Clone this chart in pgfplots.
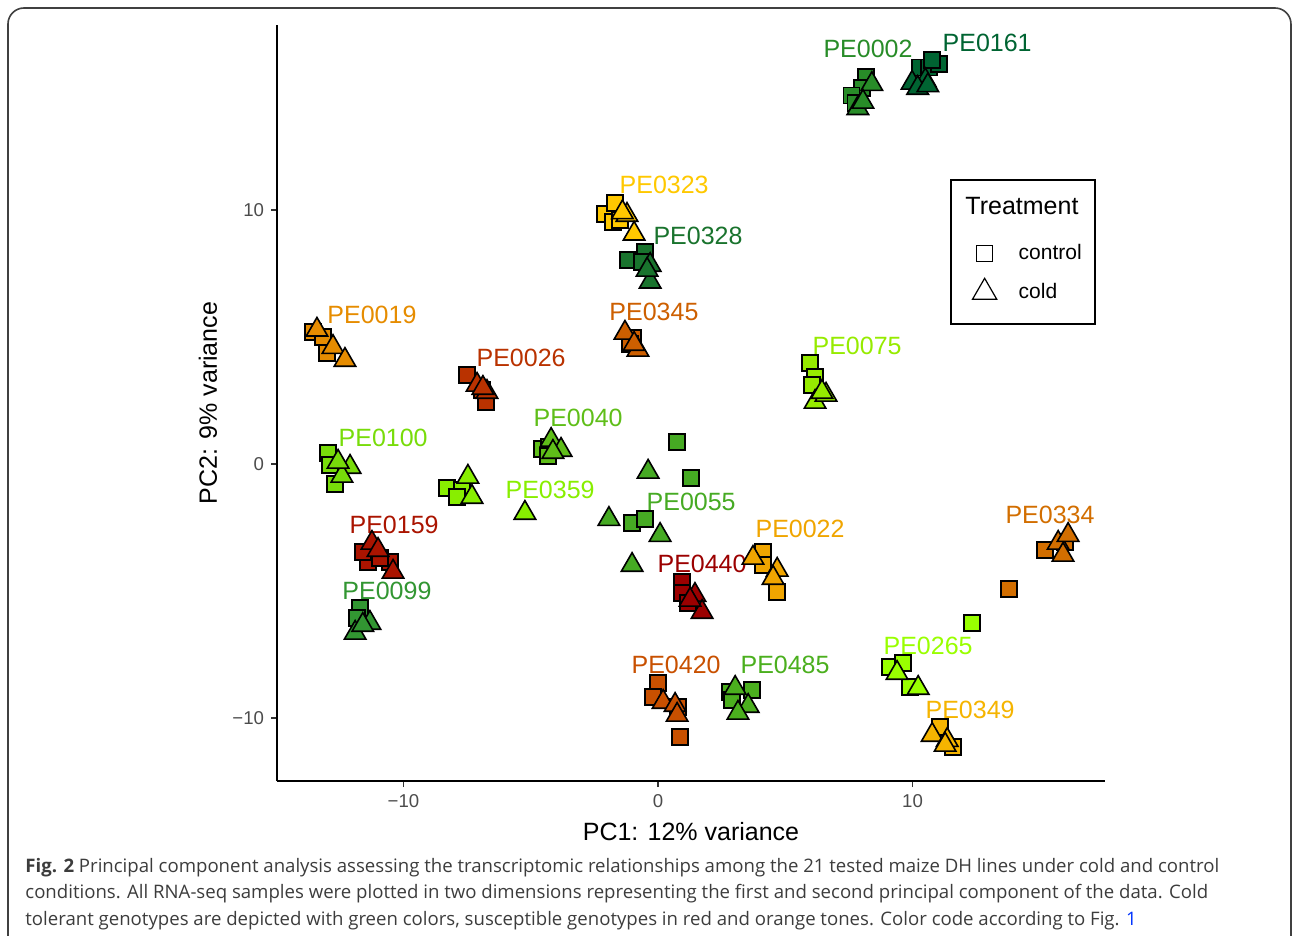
\documentclass[border=0pt]{standalone}
\usepackage{fontspec}
\setmainfont{Liberation Sans}
\newfontfamily\capfont{Open Sans}
\usepackage{pgfplots}
\pgfplotsset{compat=1.18}
\newcommand{\labf}{\fontsize{12.5bp}{14bp}\selectfont}
\newcommand{\tickf}{\fontsize{9.3bp}{11bp}\selectfont}
\newcommand{\legf}{\fontsize{10.5bp}{12bp}\selectfont}
\definecolor{c0002}{RGB}{40,140,40}
\definecolor{c0161}{RGB}{0,100,50}
\definecolor{c0323}{RGB}{255,200,0}
\definecolor{c0328}{RGB}{25,115,45}
\definecolor{c0019}{RGB}{230,140,0}
\definecolor{c0026}{RGB}{185,50,0}
\definecolor{c0345}{RGB}{205,95,0}
\definecolor{c0075}{RGB}{150,235,0}
\definecolor{c0040}{RGB}{95,190,25}
\definecolor{c0100}{RGB}{120,220,10}
\definecolor{c0359}{RGB}{136,238,0}
\definecolor{c0055}{RGB}{70,170,35}
\definecolor{c0159}{RGB}{170,20,0}
\definecolor{c0099}{RGB}{50,150,50}
\definecolor{c0440}{RGB}{155,0,0}
\definecolor{c0022}{RGB}{240,165,0}
\definecolor{c0420}{RGB}{200,80,0}
\definecolor{c0485}{RGB}{75,175,30}
\definecolor{c0265}{RGB}{153,255,0}
\definecolor{c0349}{RGB}{245,180,0}
\definecolor{c0334}{RGB}{210,110,0}
\definecolor{capgray}{RGB}{60,60,60}
\newcommand{\ctrl}[2]{\addplot[forget plot, only marks, mark=square*, mark size=4bp, mark options={fill=#1, draw=black, line width=0.8bp}] coordinates {#2};}
\newcommand{\cold}[2]{\addplot[forget plot, only marks, mark=triangle*, mark size=6.2bp, mark options={fill=#1, draw=black, line width=0.8bp}] coordinates {#2};}
\newcommand{\lab}[3]{\node[text=#1, font=\labf, inner sep=0pt] at (axis cs:#2) {#3};}
\begin{document}
\begin{tikzpicture}
\useasboundingbox (0,0) rectangle (646bp,-468bp);
\begin{axis}[
  at={(138.5bp,-390.5bp)}, anchor=south west,
  scale only axis, width=414bp, height=378bp,
  xmin=-14.97, xmax=17.56, ymin=-12.48, ymax=17.28,
  axis x line*=bottom, axis y line*=left,
  axis line style={line width=1bp, black},
  xtick={-10,0,10}, ytick={-10,0,10},
  xticklabels={−10,0,10}, yticklabels={−10,0,10},
  tick style={line width=0.8bp, black!80},
  major tick length=3bp, tick align=outside,
  ticklabel style={font=\tickf, text=black!70},
  clip=false,
  xlabel={PC1: 12\% variance}, ylabel={PC2: 9\% variance},
  label style={font=\labf},
  xlabel style={at={(axis description cs:0.5,-0.0675)}, anchor=center},
  ylabel style={at={(axis description cs:-0.0833,0.5)}, anchor=center},
  legend style={at={(axis description cs:0.8395,0.716)}, anchor=north west, draw=none, fill=none, font=\legf, row sep=6bp, inner sep=0pt},
  legend cell align=left,
]
\addlegendimage{only marks, mark=square, mark size=4bp, black, line width=0.6bp}
\addlegendentry{\hspace*{9bp}control}
\addlegendimage{only marks, mark=triangle, mark size=7bp, black, line width=0.6bp}
\addlegendentry{\hspace*{9bp}cold}

\ctrl{c0002}{(8.17,15.24)(8.02,14.80)(7.60,14.50)(7.75,14.20)}
\cold{c0002}{(8.40,14.95)(7.85,14.00)(8.05,14.25)}
\ctrl{c0161}{(10.30,15.60)(10.65,15.60)(11.04,15.75)(10.76,15.90)}
\cold{c0161}{(9.98,15.00)(10.50,15.10)(10.20,14.80)(10.60,14.90)}
\ctrl{c0323}{(-2.08,9.84)(-1.69,10.28)(-1.77,9.53)(-1.49,9.60)}
\cold{c0323}{(-1.22,9.80)(-0.94,9.06)(-1.40,9.90)}
\ctrl{c0328}{(-0.51,8.35)(-1.18,8.03)(-0.63,7.95)}
\cold{c0328}{(-0.31,7.83)(-0.31,7.17)(-0.43,7.64)}
\ctrl{c0019}{(-13.56,5.20)(-13.16,5.00)(-13.00,4.37)}
\cold{c0019}{(-13.40,5.28)(-12.77,4.60)(-12.30,4.09)}
\ctrl{c0026}{(-7.50,3.50)(-6.76,2.44)(-6.92,2.91)}
\cold{c0026}{(-7.11,3.11)(-6.72,2.83)(-6.88,2.99)}
\ctrl{c0345}{(-0.98,4.96)(-1.10,4.72)}
\cold{c0345}{(-1.30,5.16)(-0.79,4.49)(-0.94,4.72)}
\ctrl{c0075}{(5.97,3.98)(6.17,3.43)(6.05,3.11)}
\cold{c0075}{(6.17,2.44)(6.60,2.72)(6.44,2.83)}
\ctrl{c0040}{(-4.56,0.59)(-4.28,0.67)(-4.32,0.31)}
\cold{c0040}{(-4.20,0.94)(-3.81,0.55)(-4.13,0.47)}
\ctrl{c0100}{(-12.97,0.43)(-12.89,-0.04)(-12.69,-0.79)}
\cold{c0100}{(-12.10,-0.12)(-12.42,-0.47)(-12.57,0.08)}
\ctrl{c0359}{(-8.29,-0.94)(-7.70,-1.02)(-7.90,-1.30)}
\cold{c0359}{(-7.47,-0.51)(-7.31,-1.30)(-5.23,-1.93)}
\ctrl{c0055}{(0.75,0.87)(1.30,-0.55)(-1.02,-2.32)(-0.51,-2.17)}
\cold{c0055}{(-0.39,-0.31)(-1.93,-2.17)(0.08,-2.80)(-1.02,-3.98)}
\ctrl{c0159}{(-11.39,-3.86)(-10.53,-3.86)(-11.59,-3.46)(-10.92,-3.70)}
\cold{c0159}{(-11.24,-3.11)(-10.41,-4.25)(-11.00,-3.39)}
\ctrl{c0099}{(-11.71,-5.67)(-11.83,-6.06)}
\cold{c0099}{(-11.32,-6.26)(-11.90,-6.65)(-11.60,-6.34)}
\ctrl{c0440}{(0.94,-4.65)(0.94,-5.08)(1.18,-5.47)}
\cold{c0440}{(1.45,-5.16)(1.73,-5.83)(1.26,-5.35)}
\ctrl{c0022}{(4.13,-3.46)(4.13,-3.98)(4.68,-5.04)}
\cold{c0022}{(3.73,-3.70)(4.68,-4.17)(4.52,-4.49)}
\ctrl{c0420}{(0.00,-8.62)(-0.20,-9.17)(0.79,-9.57)(0.86,-10.75)}
\cold{c0420}{(0.20,-9.37)(0.67,-9.49)(0.75,-9.88)}
\ctrl{c0485}{(2.83,-8.98)(3.69,-8.90)(2.91,-9.29)}
\cold{c0485}{(3.03,-8.82)(3.54,-9.53)(3.14,-9.80)}
\ctrl{c0265}{(9.12,-7.99)(9.63,-7.83)(9.90,-8.78)(12.34,-6.26)}
\cold{c0265}{(9.39,-8.23)(10.22,-8.82)}
\ctrl{c0349}{(11.08,-10.35)(11.59,-11.14)}
\cold{c0349}{(10.77,-10.67)(11.36,-10.87)(11.28,-11.06)}
\ctrl{c0334}{(15.21,-3.39)(15.99,-3.07)(13.79,-4.92)}
\cold{c0334}{(15.72,-3.11)(16.11,-2.80)(15.91,-3.58)}

\lab{c0002}{8.25,16.34}{PE0002}
\lab{c0161}{12.93,16.57}{PE0161}
\lab{c0323}{0.24,10.98}{PE0323}
\lab{c0328}{1.57,8.98}{PE0328}
\lab{c0019}{-11.24,5.87}{PE0019}
\lab{c0026}{-5.38,4.17}{PE0026}
\lab{c0345}{-0.16,5.98}{PE0345}
\lab{c0075}{7.82,4.65}{PE0075}
\lab{c0040}{-3.14,1.81}{PE0040}
\lab{c0100}{-10.80,1.02}{PE0100}
\lab{c0359}{-4.24,-1.02}{PE0359}
\lab{c0055}{1.30,-1.50}{PE0055}
\lab{c0159}{-10.37,-2.40}{PE0159}
\lab{c0099}{-10.65,-5.00}{PE0099}
\lab{c0022}{5.58,-2.56}{PE0022}
\lab{c0440}{1.73,-3.94}{PE0440}
\lab{c0334}{15.40,-2.00}{PE0334}
\lab{c0420}{0.71,-7.91}{PE0420}
\lab{c0485}{4.99,-7.91}{PE0485}
\lab{c0265}{10.61,-7.17}{PE0265}
\lab{c0349}{12.26,-9.69}{PE0349}
\end{axis}
\begin{scope}[x=0.5bp,y=-0.5bp]
\draw[line width=0.8bp, black] (951,180) rectangle (1095,324);
\node[font=\labf, inner sep=0pt] at (1022,206) {Treatment};
\draw[rounded corners=8bp, line width=0.8bp, black!75] (8,1000) -- (8,8) -- (1291,8) -- (1291,1000);
\node[font=\capfont\fontsize{9.3bp}{11bp}\selectfont, text=capgray, anchor=base west, inner sep=0pt] at (25,873) {\textbf{Fig. 2} Principal component analysis assessing the transcriptomic relationships among the 21 tested maize DH lines under cold and control};
\node[font=\capfont\fontsize{9.3bp}{11bp}\selectfont, text=capgray, anchor=base west, inner sep=0pt] at (25,899) {conditions. All RNA-seq samples were plotted in two dimensions representing the first and second principal component of the data. Cold};
\node[font=\capfont\fontsize{9.3bp}{11bp}\selectfont, text=capgray, anchor=base west, inner sep=0pt] at (25,926) {tolerant genotypes are depicted with green colors, susceptible genotypes in red and orange tones. Color code according to Fig. \textcolor{blue!80!cyan}{1}};
\end{scope}
\end{tikzpicture}
\end{document}
